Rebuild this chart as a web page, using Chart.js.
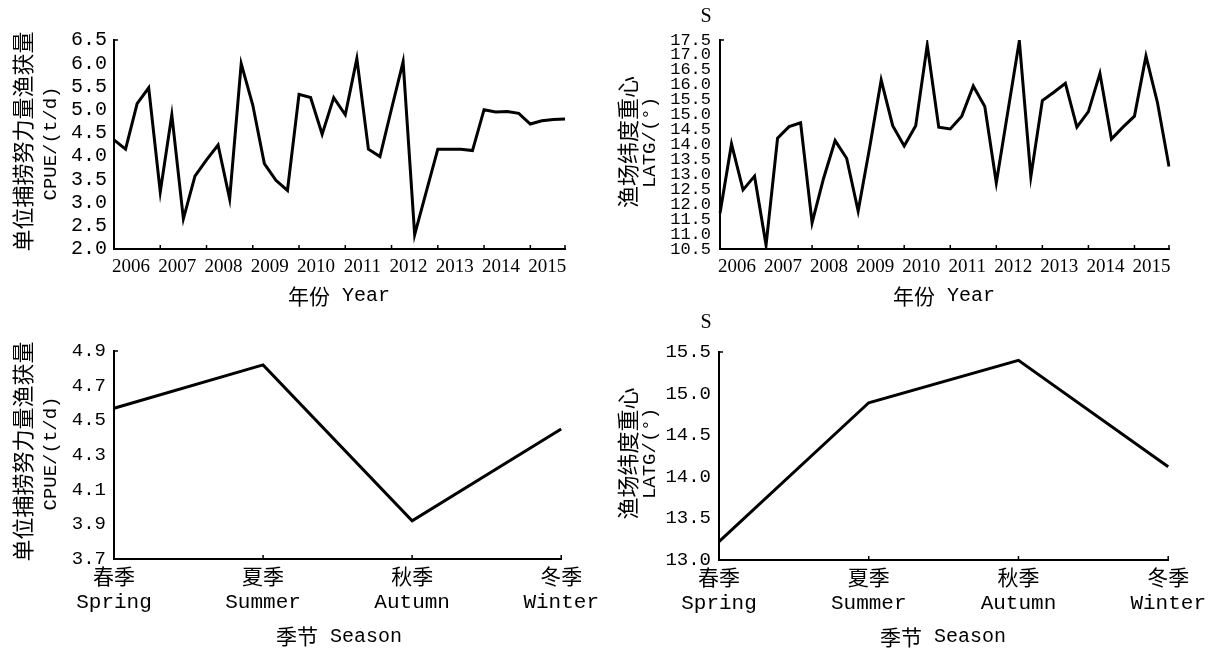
<!DOCTYPE html>
<html>
<head>
<meta charset="utf-8">
<script src="https://cdn.jsdelivr.net/npm/chart.js@4.4.1/dist/chart.umd.min.js"></script>
<style>
  body { margin: 0; background: #fff; }
  #wrap { position: relative; width: 1213px; height: 651px; overflow: hidden; background: #fff; }
  canvas { position: absolute; }
</style>
</head>
<body>
<div id="wrap">
  <canvas id="c1" width="600" height="310" style="left:0;top:0"></canvas>
  <canvas id="c2" width="613" height="310" style="left:600px;top:0"></canvas>
  <canvas id="c3" width="606" height="341" style="left:0;top:310px"></canvas>
  <canvas id="c4" width="613" height="341" style="left:600px;top:310px"></canvas>
</div>
<script>
// 年份与季度
const years = ['2006', '2007', '2008', '2009', '2010', '2011', '2012', '2013', '2014', '2015'];
const quarters = years.flatMap(y => ['Q1', 'Q2', 'Q3', 'Q4'].map(q => y + q));

// 季度 CPUE (t/d)
const cpueQuarter = [4.35, 4.15, 5.13, 5.47, 3.23, 4.89, 2.65, 3.57, 3.92, 4.24,
                     3.08, 5.99, 5.10, 3.84, 3.48, 3.26, 5.33, 5.26, 4.47, 5.26,
                     4.89, 6.10, 4.15, 3.99, 5.02, 6.03, 2.31, 3.23, 4.15, 4.15,
                     4.15, 4.12, 5.00, 4.95, 4.96, 4.92, 4.69, 4.76, 4.79, 4.80];

// 季度 渔场纬度重心 LATG (°S)
const latQuarter = [11.70, 14.02, 12.48, 12.94, 10.63, 14.21, 14.60, 14.73, 11.38, 12.87,
                    14.13, 13.54, 11.77, 13.90, 16.16, 14.63, 13.95, 14.63, 17.33, 14.58,
                    14.52, 14.95, 15.96, 15.27, 12.72, 15.10, 17.47, 12.92, 15.47, 15.75,
                    16.05, 14.58, 15.10, 16.38, 14.18, 14.58, 14.95, 16.96, 15.40, 13.26];

// 季节
const seasonsCn = ['春季', '夏季', '秋季', '冬季'];
const seasonsEn = ['Spring', 'Summer', 'Autumn', 'Winter'];
const cpueSeason = [4.57, 4.82, 3.92, 4.45];
const latSeason = [13.22, 14.89, 15.40, 14.12];

const CJK = '"Noto Sans CJK SC"';
const MONO = '"Liberation Mono"';

// 刻度线朝内
const innerTicks = {
    id: 'innerTicks',
    afterDatasetsDraw(chart) {
        const sx = chart.scales.x;
        const { left, top, bottom } = chart.chartArea;
        const ctx = chart.ctx;
        const xs = sx.ticks.map(t => sx.getPixelForValue(t.value));
        xs.push(sx.right);
        ctx.save();
        ctx.strokeStyle = '#000';
        ctx.lineWidth = 1.5;
        ctx.beginPath();
        xs.forEach(x => { ctx.moveTo(x, bottom); ctx.lineTo(x, bottom - 4); });
        ctx.moveTo(left, top);
        ctx.lineTo(left + 4, top);
        ctx.stroke();
        ctx.restore();
    }
};

// 混合字体文字 (中文 + 西文)
function textPlugin(items) {
    return {
        id: 'texts',
        afterDraw(chart) {
            const ctx = chart.ctx;
            for (const t of items) {
                ctx.save();
                ctx.translate(t.x, t.y);
                if (t.rotate) ctx.rotate(-Math.PI / 2);
                ctx.textBaseline = 'middle';
                ctx.textAlign = 'left';
                ctx.fillStyle = '#000';
                let w = 0;
                for (const [s, f] of t.runs) { ctx.font = f; w += ctx.measureText(s).width; }
                let x = -w / 2;
                for (const [s, f] of t.runs) {
                    ctx.font = f;
                    ctx.fillText(s, x, 0);
                    x += ctx.measureText(s).width;
                }
                ctx.restore();
            }
        }
    };
}

function makeChart(id, o) {
    return new Chart(document.getElementById(id), {
        type: 'line',
        data: {
            labels: o.labels,
            datasets: [{
                data: o.values,
                borderColor: '#000',
                borderWidth: 3,
                borderJoinStyle: 'miter',
                pointRadius: 0,
                tension: 0,
                fill: false
            }]
        },
        options: {
            responsive: false,
            animation: false,
            layout: { padding: o.pad },
            plugins: { legend: { display: false }, tooltip: { enabled: false } },
            scales: {
                x: {
                    grid: { display: false, drawTicks: false },
                    border: { color: '#000', width: 2 },
                    afterFit: s => { s.height = o.xh; },
                    afterBuildTicks: o.filterTicks,
                    ticks: {
                        autoSkip: false,
                        maxRotation: 0,
                        padding: o.xpad,
                        labelOffset: o.labelOffset,
                        color: '#000',
                        font: o.xfont,
                        callback: o.xcb
                    }
                },
                y: {
                    min: o.yMin,
                    max: o.yMax,
                    grid: { display: false, drawTicks: false },
                    border: { color: '#000', width: 2 },
                    afterFit: s => { s.width = o.yw; },
                    ticks: {
                        autoSkip: false,
                        stepSize: o.yStep,
                        padding: o.ypad,
                        color: '#000',
                        font: o.yfont,
                        callback: v => v.toFixed(1)
                    }
                }
            }
        },
        plugins: [innerTicks, textPlugin(o.texts)]
    });
}

const yearTicks = s => { s.ticks = s.ticks.filter(t => t.value % 4 === 0); };
const keepTicks = s => {};
const yearLabel = (v, i) => years[i];
const seasonLabel = (v, i) => [seasonsCn[i], seasonsEn[i]];

makeChart('c1', {
    labels: quarters, values: cpueQuarter,
    pad: { top: 40, right: 35, left: 0, bottom: 0 }, yw: 114, xh: 61,
    yMin: 2, yMax: 6.5, yStep: 0.5, ypad: 7, yfont: { family: MONO, size: 20 },
    filterTicks: yearTicks, xcb: yearLabel, xpad: 7, labelOffset: 17,
    xfont: { family: '"Liberation Serif"', size: 19 },
    texts: [
        { x: 23, y: 141.5, rotate: true, runs: [['单位捕捞努力量渔获量', '22px ' + CJK]] },
        { x: 51, y: 143.5, rotate: true, runs: [['CPUE/(t/d)', '19px ' + MONO]] },
        { x: 339, y: 296, runs: [['年份', '21px ' + CJK], [' Year', '20px ' + MONO]] }
    ]
});

makeChart('c2', {
    labels: quarters, values: latQuarter,
    pad: { top: 40, right: 44, left: 0, bottom: 0 }, yw: 120, xh: 61,
    yMin: 10.5, yMax: 17.5, yStep: 0.5, ypad: 9, yfont: { family: MONO, size: 17 },
    filterTicks: yearTicks, xcb: yearLabel, xpad: 7, labelOffset: 17,
    xfont: { family: '"Liberation Serif"', size: 19 },
    texts: [
        { x: 28, y: 142, rotate: true, runs: [['渔场纬度重心', '22px ' + CJK]] },
        { x: 50, y: 142.5, rotate: true, runs: [['LATG/(°)', '19px ' + MONO]] },
        { x: 344, y: 296, runs: [['年份', '21px ' + CJK], [' Year', '20px ' + MONO]] },
        { x: 106, y: 17, runs: [['S', '20px "Liberation Serif"']] }
    ]
});

makeChart('c3', {
    labels: seasonsEn, values: cpueSeason,
    pad: { top: 41, right: 42, left: 0, bottom: 0 }, yw: 114, xh: 92,
    yMin: 3.7, yMax: 4.9, yStep: 0.2, ypad: 8, yfont: { family: MONO, size: 19 },
    filterTicks: keepTicks, xcb: seasonLabel, xpad: 7, labelOffset: 0,
    xfont: { family: MONO + ', ' + CJK, size: 21, lineHeight: 1.15 },
    texts: [
        { x: 23, y: 141.5, rotate: true, runs: [['单位捕捞努力量渔获量', '22px ' + CJK]] },
        { x: 51, y: 143.5, rotate: true, runs: [['CPUE/(t/d)', '19px ' + MONO]] },
        { x: 339, y: 326.5, runs: [['季节', '21px ' + CJK], [' Season', '20px ' + MONO]] }
    ]
});

makeChart('c4', {
    labels: seasonsEn, values: latSeason,
    pad: { top: 42, right: 44, left: 0, bottom: 0 }, yw: 119, xh: 91,
    yMin: 13, yMax: 15.5, yStep: 0.5, ypad: 8, yfont: { family: MONO, size: 19 },
    filterTicks: keepTicks, xcb: seasonLabel, xpad: 7, labelOffset: 0,
    xfont: { family: MONO + ', ' + CJK, size: 21, lineHeight: 1.15 },
    texts: [
        { x: 28, y: 143.5, rotate: true, runs: [['渔场纬度重心', '22px ' + CJK]] },
        { x: 50, y: 143.5, rotate: true, runs: [['LATG/(°)', '19px ' + MONO]] },
        { x: 343, y: 327, runs: [['季节', '21px ' + CJK], [' Season', '20px ' + MONO]] },
        { x: 106, y: 13, runs: [['S', '20px "Liberation Serif"']] }
    ]
});
</script>
</body>
</html>
